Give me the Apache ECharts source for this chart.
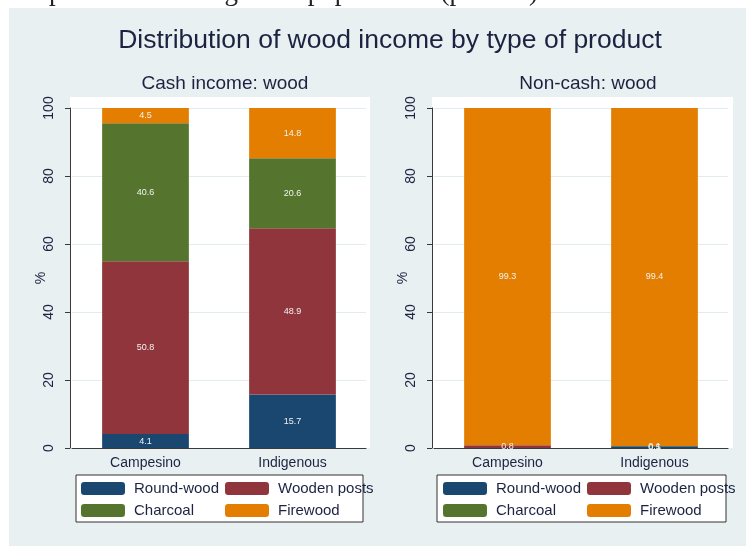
<!DOCTYPE html>
<html>
<head>
<meta charset="utf-8">
<title>Distribution of wood income by type of product</title>
<script src="https://cdn.jsdelivr.net/npm/echarts@6/dist/echarts.min.js"></script>
<style>
  html, body { margin: 0; padding: 0; background: #fff; }
  #chart { width: 746px; height: 546px; }
</style>
</head>
<body>
<div id="chart"></div>
<script>
// data
const categories = ['Campesino', 'Indigenous'];
const productNames = ['Round-wood', 'Wooden posts', 'Charcoal', 'Firewood'];
const productColors = ['#1a476f', '#90353b', '#55752f', '#e37e00'];

// cash income: wood (percent)
const cashRoundWood = [4.1, 15.7];
const cashWoodenPosts = [50.8, 48.9];
const cashCharcoal = [40.6, 20.6];
const cashFirewood = [4.5, 14.8];

// non-cash: wood (percent)
const nonCashRoundWood = [0, 0.5];
const nonCashWoodenPosts = [0.8, 0];
const nonCashCharcoal = [0, 0.1];
const nonCashFirewood = [99.3, 99.4];

const yTicks = [0, 20, 40, 60, 80, 100];

const textColor = '#1c2340';
const fontFamily = '"Liberation Sans", Arial, sans-serif';

const chart = echarts.init(document.getElementById('chart'));

function makeSeries(values, idx, stackName, axisIdx) {
  return {
    name: productNames[idx],
    type: 'bar',
    stack: stackName,
    xAxisIndex: axisIdx,
    yAxisIndex: axisIdx,
    barWidth: '59%',
    data: values,
    itemStyle: { color: productColors[idx] },
    label: {
      show: true,
      position: 'inside',
      color: '#f2f2f2',
      fontSize: 9,
      fontFamily: fontFamily,
      // tiny segments sit on the axis; keep the last one drawn on top (as Stata does)
      formatter: p => (p.value > 0 ? p.value.toFixed(1) : '')
    },
    emphasis: { disabled: true }
  };
}

function makeYAxis(gridIdx) {
  return {
    type: 'value',
    gridIndex: gridIdx,
    min: yTicks[0],
    max: yTicks[yTicks.length - 1],
    interval: yTicks[1] - yTicks[0],
    offset: 2,
    name: '%',
    nameLocation: 'middle',
    nameRotate: 90,
    nameGap: 22,
    nameMoveOverlap: false,
    nameTextStyle: { color: textColor, fontSize: 14, fontFamily: fontFamily },
    axisLine: { show: true, lineStyle: { color: '#3a3a3a', width: 1 } },
    axisTick: { show: true, length: 5, lineStyle: { color: '#3a3a3a' } },
    axisLabel: { rotate: 90, margin: 14, color: textColor, fontSize: 14, fontFamily: fontFamily },
    splitLine: { show: true, lineStyle: { color: '#e2ecf0', width: 1 } }
  };
}

function makeXAxis(gridIdx) {
  return {
    type: 'category',
    gridIndex: gridIdx,
    data: categories,
    axisLine: { show: true, lineStyle: { color: '#3a3a3a', width: 1 } },
    axisTick: { show: false },
    axisLabel: { margin: 8, color: textColor, fontSize: 14, fontFamily: fontFamily }
  };
}

// one legend per item so the two columns line up like the original
function makeLegend(name, left, top) {
  return {
    data: [name],
    left: left,
    top: top,
    padding: 0,
    itemWidth: 44,
    itemHeight: 13,
    itemStyle: { borderWidth: 0 },
    selectedMode: false,
    textStyle: { color: textColor, fontSize: 15, fontFamily: fontFamily, padding: [0, 0, 0, 4] }
  };
}

const legendPos = [
  // left panel
  ['Round-wood', 81, 481], ['Wooden posts', 225, 481],
  ['Charcoal', 81, 503], ['Firewood', 225, 503],
  // right panel
  ['Round-wood', 443, 481], ['Wooden posts', 587, 481],
  ['Charcoal', 443, 503], ['Firewood', 587, 503]
];

const option = {
  animation: false,
  title: [
    {
      text: 'Distribution of wood income by type of product',
      left: 385, top: 22, textAlign: 'center',
      textStyle: { color: textColor, fontSize: 26.5, fontWeight: 'normal', fontFamily: fontFamily }
    },
    {
      text: 'Cash income: wood',
      left: 220, top: 69, textAlign: 'center',
      textStyle: { color: textColor, fontSize: 19, fontWeight: 'normal', fontFamily: fontFamily }
    },
    {
      text: 'Non-cash: wood',
      left: 583, top: 69, textAlign: 'center',
      textStyle: { color: textColor, fontSize: 19, fontWeight: 'normal', fontFamily: fontFamily }
    }
  ],
  graphic: [
    {
      type: 'text', left: 4, top: -21, silent: true,
      style: { text: 'campesinos and indigenous populations (percent)', fill: '#222', font: '27px "Liberation Serif", serif' }
    },
    { type: 'rect', shape: { x: 9, y: 8, width: 737, height: 538 }, style: { fill: '#e8f0f2' }, silent: true, z: -10 },
    // plot regions
    { type: 'rect', shape: { x: 70, y: 97, width: 300, height: 351 }, style: { fill: '#fff' }, silent: true, z: -5 },
    { type: 'rect', shape: { x: 432, y: 97, width: 301, height: 351 }, style: { fill: '#fff' }, silent: true, z: -5 },
    // legend boxes
    { type: 'rect', shape: { x: 76, y: 475, width: 287, height: 47 }, style: { fill: '#fff', stroke: '#333', lineWidth: 1 }, silent: true, z: -5 },
    { type: 'rect', shape: { x: 437, y: 475, width: 289, height: 47 }, style: { fill: '#fff', stroke: '#333', lineWidth: 1 }, silent: true, z: -5 }
  ],
  legend: legendPos.map(d => makeLegend(d[0], d[1], d[2])),
  grid: [
    { left: 72, top: 108, width: 294, height: 340 },
    { left: 434, top: 108, width: 294, height: 340 }
  ],
  xAxis: [makeXAxis(0), makeXAxis(1)],
  yAxis: [makeYAxis(0), makeYAxis(1)],
  series: [
    makeSeries(cashRoundWood, 0, 'cash', 0),
    makeSeries(cashWoodenPosts, 1, 'cash', 0),
    makeSeries(cashCharcoal, 2, 'cash', 0),
    makeSeries(cashFirewood, 3, 'cash', 0),
    makeSeries(nonCashRoundWood, 0, 'noncash', 1),
    makeSeries(nonCashWoodenPosts, 1, 'noncash', 1),
    makeSeries(nonCashCharcoal, 2, 'noncash', 1),
    makeSeries(nonCashFirewood, 3, 'noncash', 1)
  ]
};

chart.setOption(option);
</script>
</body>
</html>
